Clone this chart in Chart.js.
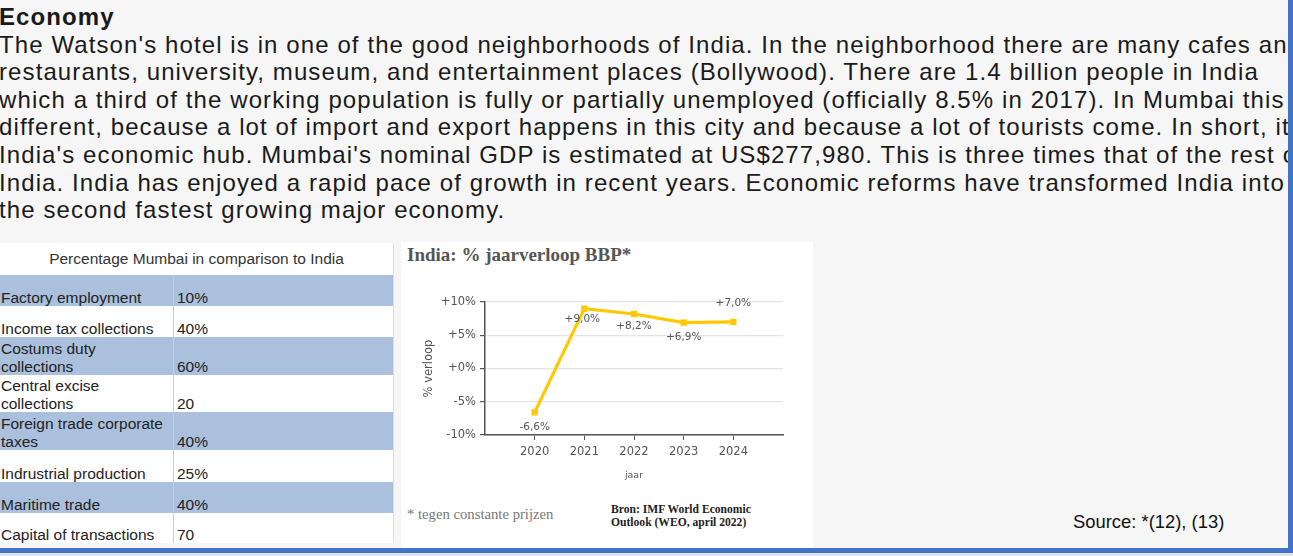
<!DOCTYPE html>
<html>
<head>
<meta charset="utf-8">
<script src="https://cdn.jsdelivr.net/npm/chart.js@4.4.0/dist/chart.umd.min.js"></script>
<style>
  html, body { margin:0; padding:0; }
  body { width:1293px; height:556px; background:#f6f6f6; overflow:hidden; position:relative; font-family:"Liberation Sans", Arial, sans-serif; }
  #clip { position:absolute; left:0; top:0; width:1288px; height:548px; overflow:hidden; }
  #text { position:absolute; left:-1px; top:3px; font-size:24px; line-height:27.6px; letter-spacing:1.1px; color:#1a1a1a; white-space:nowrap; }
  #text b { font-weight:bold; letter-spacing:1.1px; }
  #rborder { position:absolute; left:1288px; top:0; width:5px; height:553px; background:#4472c4; }
  #bborder { position:absolute; left:0; top:548px; width:1293px; height:5px; background:#4472c4; }
  #bbelow { position:absolute; left:0; top:553px; width:1293px; height:3px; background:#dfe5ef; }
  #tablebox { position:absolute; left:0; top:243px; width:393px; height:300px; background:#fff; border-right:1px solid #ddd; }
  #tbl { border-collapse:collapse; width:393px; font-size:15.5px; color:#222; font-family:"Liberation Sans", Arial, sans-serif; }
  #tbl td { padding:0 0 0 1px; vertical-align:bottom; line-height:17.5px; }
  #tbl td.val { border-left:1px solid #ccc; padding-left:3px; }
  #tbl tr.blue td { background:#aac0dc; }
  #tbl th { font-weight:normal; text-align:center; height:32px; vertical-align:middle; padding:0; color:#333; }
  #chartbox { position:absolute; left:401px; top:242px; width:412px; height:306px; background:#fff; }
  #ctitle { position:absolute; left:6px; top:2px; font-family:"Liberation Serif", "Times New Roman", serif; font-weight:bold; font-size:19px; color:#555; white-space:nowrap; }
  #cnote { position:absolute; left:6px; top:264px; font-family:"Liberation Serif", "Times New Roman", serif; font-size:14.7px; color:#777; white-space:nowrap; }
  #csrc { position:absolute; left:210px; top:261px; font-family:"Liberation Serif", "Times New Roman", serif; font-weight:bold; font-size:11.6px; line-height:13px; color:#222; white-space:nowrap; }
  #cv { position:absolute; left:0; top:48px; }
  #source { position:absolute; left:1073px; top:511px; font-size:18.4px; color:#111; white-space:nowrap; }
</style>
</head>
<body>
<div id="clip">
  <div id="text">
    <b>Economy</b><br>
    The Watson's hotel is in one of the good neighborhoods of India. In the neighborhood there are many cafes and<br>
    restaurants, university, museum, and entertainment places (Bollywood). There are 1.4 billion people in India<br>
    which a third of the working population is fully or partially unemployed (officially 8.5% in 2017). In Mumbai this is<br>
    different, because a lot of import and export happens in this city and because a lot of tourists come. In short, it is<br>
    India's economic hub. Mumbai's nominal GDP is estimated at US$277,980. This is three times that of the rest of<br>
    India. India has enjoyed a rapid pace of growth in recent years. Economic reforms have transformed India into<br>
    the second fastest growing major economy.
  </div>
  <div id="tablebox"><table id="tbl"></table></div>
  <div id="chartbox">
    <div id="ctitle">India: % jaarverloop BBP*</div>
    <canvas id="cv" width="412" height="200"></canvas>
    <div id="cnote">* tegen constante prijzen</div>
    <div id="csrc">Bron: IMF World Economic<br>Outlook (WEO, april 2022)</div>
  </div>
  <div id="source">Source: *(12), (13)</div>
</div>
<div id="rborder"></div>
<div id="bborder"></div>
<div id="bbelow"></div>
<script>
// ---- Table data ----
const tableTitle = "Percentage Mumbai in comparison to India";
const tableLabels = [
  "Factory employment",
  "Income tax collections",
  "Costums duty collections",
  "Central excise collections",
  "Foreign trade corporate taxes",
  "Indrustrial production",
  "Maritime trade",
  "Capital of transactions"
];
const tableValues = ["10%", "40%", "60%", "20", "40%", "25%", "40%", "70"];

// ---- Chart data ----
const years = [2020, 2021, 2022, 2023, 2024];
const gdpGrowth = [-6.6, 9.0, 8.2, 6.9, 7.0];
const yTickValues = [-10, -5, 0, 5, 10];

// build table
(function(){
  const rowHeights = [31, 31, 38, 37, 38, 32, 31, 30];
  const tbl = document.getElementById('tbl');
  const head = document.createElement('tr');
  const th = document.createElement('th');
  th.colSpan = 2; th.textContent = tableTitle;
  head.appendChild(th); tbl.appendChild(head);
  tableLabels.forEach((lab, i) => {
    const tr = document.createElement('tr');
    if (i % 2 === 0) tr.className = 'blue';
    tr.style.height = rowHeights[i] + 'px';
    const a = document.createElement('td');
    a.style.width = '172px';
    a.textContent = lab;
    const b = document.createElement('td');
    b.className = 'val';
    b.textContent = tableValues[i];
    tr.appendChild(a); tr.appendChild(b);
    tbl.appendChild(tr);
  });
  const wraps = {2: "Costums duty<br>collections", 3: "Central excise<br>collections", 4: "Foreign trade corporate<br>taxes"};
  const rows = tbl.querySelectorAll('tr');
  Object.keys(wraps).forEach(k => { rows[+k + 1].children[0].innerHTML = wraps[k]; });
})();

const fmtPct = v => (v > 0 ? '+' : '') + v.toFixed(1).replace('.', ',') + '%';

const labelPlugin = {
  id: 'pointLabels',
  afterDatasetsDraw(chart, args, opts) {
    const ctx = chart.ctx;
    const meta = chart.getDatasetMeta(0);
    ctx.save();
    ctx.font = '10.5px "DejaVu Sans", Verdana, sans-serif';
    ctx.fillStyle = '#555';
    ctx.textAlign = 'center';
    ctx.textBaseline = 'middle';
    meta.data.forEach((pt, i) => {
      ctx.fillText(fmtPct(gdpGrowth[i]), pt.x + opts.dx[i], pt.y + opts.dy[i]);
    });
    ctx.restore();
  }
};

const tickFont = { family: '"DejaVu Sans", Verdana, sans-serif', size: 11.5 };

new Chart(document.getElementById('cv'), {
  type: 'line',
  data: {
    datasets: [{
      data: years.map((y, i) => ({ x: y, y: gdpGrowth[i] })),
      borderColor: '#ffc800',
      backgroundColor: '#ffc800',
      borderWidth: 3.2,
      pointStyle: 'rect',
      pointRadius: 4.5,
      pointBorderWidth: 0,
      tension: 0,
      clip: false
    }]
  },
  options: {
    responsive: false,
    animation: false,
    devicePixelRatio: 1,
    layout: { padding: { left: 0, right: 30, top: 12, bottom: 0 } },
    plugins: {
      legend: { display: false },
      tooltip: { enabled: false },
      pointLabels: { dx: [0, -2, 0, 0, 0], dy: [15, 11, 12, 15, -19] }
    },
    scales: {
      x: {
        type: 'linear',
        min: 2019, max: 2025,
        afterBuildTicks: s => { s.ticks = years.map(v => ({ value: v })); },
        afterFit: s => { s.height = 55; },
        ticks: { color: '#555', font: tickFont, padding: 5, callback: v => String(v), maxRotation: 0 },
        grid: { drawOnChartArea: false, drawTicks: true, tickLength: 5, color: '#555', tickColor: '#555' },
        border: { display: true, color: '#555', width: 1.5 },
        title: { display: true, text: 'jaar', color: '#555', font: { family: '"DejaVu Sans", Verdana, sans-serif', size: 9.5 }, padding: { top: 0, bottom: 9 } }
      },
      y: {
        min: -10, max: 10,
        afterBuildTicks: s => { s.ticks = yTickValues.map(v => ({ value: v })); },
        afterFit: s => { s.width = 84; },
        ticks: { color: '#555', font: tickFont, padding: 4, callback: v => (v >= 0 ? '+' : '') + v + '%' },
        grid: { color: '#e4e4e4', tickColor: '#555', tickLength: 5, lineWidth: 1.2 },
        border: { display: true, color: '#555', width: 1.5 },
        title: { display: true, text: '% verloop', color: '#555', font: { family: '"DejaVu Sans", Verdana, sans-serif', size: 11.5 }, padding: { top: 21, bottom: 0 } }
      }
    }
  },
  plugins: [labelPlugin]
});
</script>
</body>
</html>
